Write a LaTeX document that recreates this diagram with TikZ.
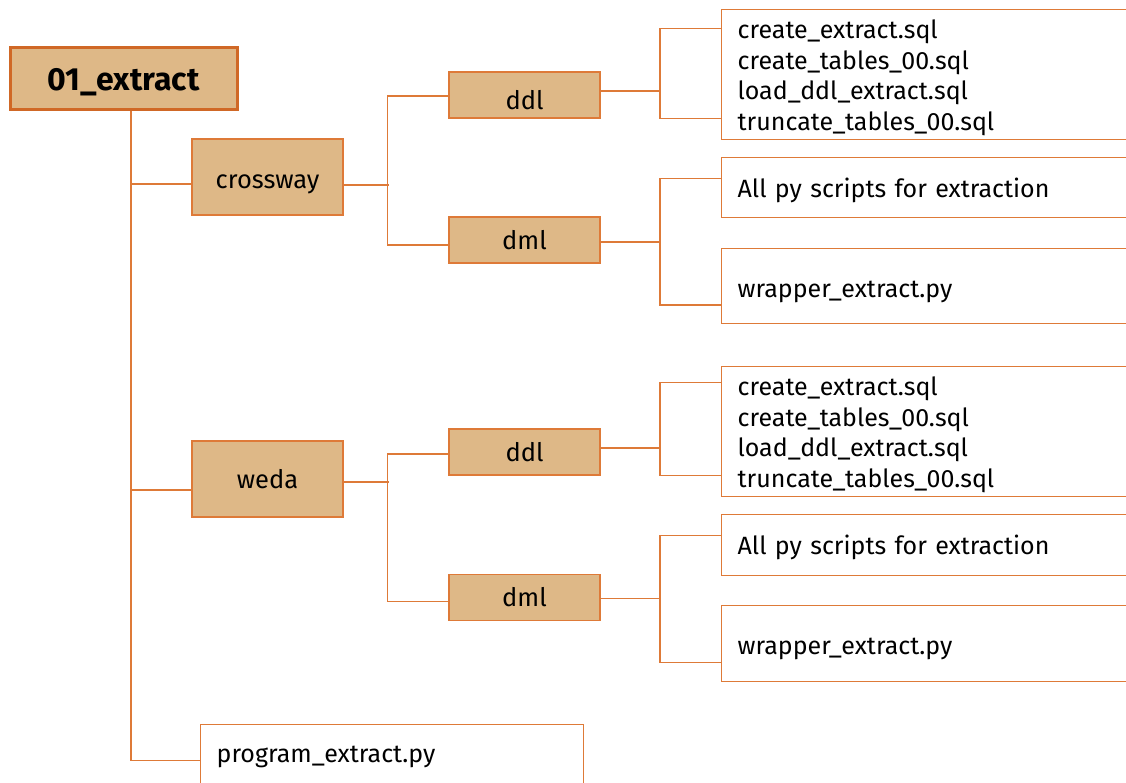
\documentclass[tikz,border=0pt]{standalone}
\usepackage{fontspec}
\setmainfont{Fira Sans}
\usetikzlibrary{calc}
\definecolor{boxfill}{RGB}{222,184,135}
\definecolor{edge}{RGB}{222,122,56}
\definecolor{rootedge}{RGB}{208,104,38}
\newcommand{\dropby}[2]{\raisebox{-#1pt}[\height][\depth]{#2}}
\tikzset{
  folder/.style={draw=edge, line width=1.6pt, fill=boxfill, inner sep=0pt, font=\fontsize{25.5}{28}\selectfont},
  rootbox/.style={draw=rootedge, line width=3pt, fill=boxfill, inner sep=0pt, font=\fontsize{32}{36}\selectfont\bfseries},
  filebox/.style={draw=edge, line width=1.3pt, fill=white, inner xsep=16pt, inner ysep=0pt, text width=388pt, align=left, anchor=north west, font=\fontsize{25}{30.6}\selectfont},
  conn/.style={draw=edge, line width=1.4pt}
}
\begin{document}
\begin{tikzpicture}[x=1pt,y=-1pt]
\clip (0,0) rectangle (1126,782);
\fill[white] (0,0) rectangle (1126,782);
% folders
\node[rootbox, minimum width=227pt, minimum height=62pt] (root) at (123.5,78) {\dropby{4}{01\_extract}};
\node[folder, minimum width=151pt, minimum height=76pt] (crossway) at (267.5,177) {\dropby{7}{crossway}};
\node[folder, minimum width=151pt, minimum height=46pt] (ddl1) at (524.5,95) {\dropby{5}{ddl}};
\node[folder, minimum width=151pt, minimum height=46pt] (dml1) at (524.5,240) {dml};
\node[folder, minimum width=151pt, minimum height=76pt] (weda) at (267.5,479) {weda};
\node[folder, minimum width=151pt, minimum height=46pt] (ddl2) at (524.5,452) {ddl};
\node[folder, minimum width=151pt, minimum height=46pt] (dml2) at (524.5,597.5) {dml};
% files
\node[filebox, minimum height=130pt] (f1) at (721,9) {\dropby{3}{\parbox{388pt}{create\_extract.sql\\create\_tables\_00.sql\\load\_ddl\_extract.sql\\truncate\_tables\_00.sql}}};
\node[filebox, minimum height=60pt] (f2) at (721,157) {\dropby{3}{All py scripts for extraction}};
\node[filebox, minimum height=75pt] (f3) at (721,248) {\dropby{6}{wrapper\_extract.py}};
\node[filebox, minimum height=130pt] (f4) at (721,366) {\dropby{3}{\parbox{388pt}{create\_extract.sql\\create\_tables\_00.sql\\load\_ddl\_extract.sql\\truncate\_tables\_00.sql}}};
\node[filebox, minimum height=61pt] (f5) at (721,514) {\dropby{2}{All py scripts for extraction}};
\node[filebox, minimum height=76pt] (f6) at (721,605) {\dropby{5}{wrapper\_extract.py}};
\node[filebox, text width=351pt, minimum height=76pt] (prog) at (200,724) {\dropby{-6}{program\_extract.py}};
% trunk
\coordinate (tr) at ($(root.south)+(7.5,0)$);
\draw[conn] (tr) |- ($(prog.west)+(0,-2)$);
\draw[conn] ($(crossway.west)+(0,7)$) -- ($(crossway.west)+(-61,7)$);
\draw[conn] ($(weda.west)+(0,11)$) -- ($(weda.west)+(-61,11)$);
% crossway subtree
\draw[conn] ($(crossway.east)+(0,8)$) -- ++(45,0);
\draw[conn] ($(ddl1.west)+(0,1)$) -- ++(-61,0) |- ($(dml1.west)+(0,5)$);
\draw[conn] ($(ddl1.east)+(0,-4)$) -- ++(60,0);
\draw[conn] ($(f1.west)+(0,-46)$) -- ++(-61,0) |- ($(f1.west)+(0,44)$);
\draw[conn] ($(dml1.east)+(0,2)$) -- ++(60,0);
\draw[conn] ($(f2.west)+(0,-9)$) -- ++(-61,0) |- ($(f3.west)+(0,19)$);
% weda subtree
\draw[conn] ($(weda.east)+(0,3)$) -- ++(45,0);
\draw[conn] ($(ddl2.west)+(0,2)$) -- ++(-61,0) |- ($(dml2.west)+(0,4)$);
\draw[conn] ($(ddl2.east)+(0,-4)$) -- ++(60,0);
\draw[conn] ($(f4.west)+(0,-49)$) -- ++(-61,0) |- ($(f4.west)+(0,44)$);
\draw[conn] ($(dml2.east)+(0,1)$) -- ++(60,0);
\draw[conn] ($(f5.west)+(0,-9.5)$) -- ++(-61,0) |- ($(f6.west)+(0,19)$);
\end{tikzpicture}
\end{document}
